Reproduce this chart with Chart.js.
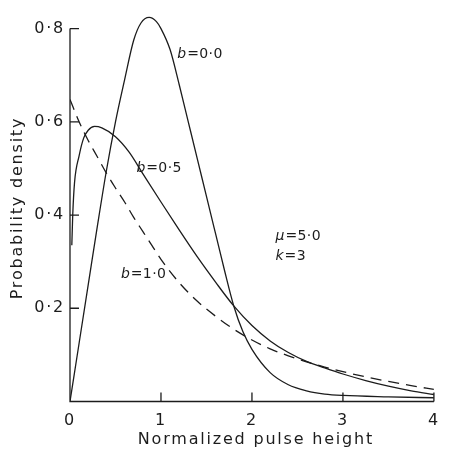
<!DOCTYPE html>
<html><head><meta charset="utf-8">
<script src="https://cdn.jsdelivr.net/npm/chart.js@4"></script>
<style>html,body{margin:0;padding:0;background:#fff;}</style>
</head><body>
<canvas id="c" width="449" height="451"></canvas>
<script>
// ---- data ----
const xB00 = [0, 0.1, 0.2, 0.3, 0.4, 0.5, 0.6, 0.7, 0.78, 0.87, 0.95, 1.0, 1.1, 1.2, 1.3, 1.4, 1.5, 1.6, 1.7, 1.8, 1.9, 2.0, 2.2, 2.4, 2.6, 2.8, 3.0, 3.5, 4.0];
const yB00 = [0, 0.125, 0.25, 0.375, 0.495, 0.60, 0.69, 0.775, 0.812, 0.824, 0.815, 0.80, 0.755, 0.68, 0.60, 0.52, 0.44, 0.36, 0.28, 0.205, 0.15, 0.112, 0.062, 0.036, 0.023, 0.016, 0.013, 0.010, 0.008];

const xB05 = [0.02, 0.03, 0.05, 0.1, 0.15, 0.2, 0.27, 0.35, 0.5, 0.65, 0.8, 1.0, 1.2, 1.4, 1.6, 1.8, 2.0, 2.2, 2.4, 2.6, 2.8, 3.0, 3.25, 3.5, 3.75, 4.0];
const yB05 = [0.335, 0.40, 0.47, 0.527, 0.565, 0.582, 0.59, 0.587, 0.568, 0.535, 0.489, 0.428, 0.368, 0.31, 0.256, 0.205, 0.163, 0.13, 0.105, 0.086, 0.072, 0.059, 0.045, 0.033, 0.023, 0.015];

const xB10 = [0, 0.1, 0.2, 0.3, 0.4, 0.5, 0.6, 0.7, 0.8, 0.9, 1.0, 1.2, 1.4, 1.6, 1.8, 2.0, 2.2, 2.4, 2.6, 2.8, 3.0, 3.25, 3.5, 3.75, 4.0];
const yB10 = [0.648, 0.60, 0.56, 0.525, 0.49, 0.458, 0.428, 0.395, 0.365, 0.335, 0.305, 0.255, 0.215, 0.183, 0.155, 0.132, 0.113, 0.098, 0.085, 0.074, 0.064, 0.053, 0.043, 0.034, 0.026];

const xTicks = [0, 1, 2, 3, 4];
const xTickLabels = ['0', '1', '2', '3', '4'];
const yTicks = [0.2, 0.4, 0.6, 0.8];
const yTickLabels = ['0·2', '0·4', '0·6', '0·8'];

const seriesNames = ['b=0·0', 'b=0·5', 'b=1·0'];
const xTitle = 'Normalized pulse height';
const yTitle = 'Probability density';
const paramLines = [['μ', '=5·0'], ['k', '=3']];

// ---- build ----
const toPts = (xs, ys) => xs.map((x, i) => ({x: x, y: ys[i]}));
const INK = '#1c1c1c';
const FONT = 'DejaVu Sans';

const axisPlugin = {
  id: 'axisPlugin',
  beforeDraw(chart) { chart.ctx.letterSpacing = '1.8px'; },
  beforeDatasetsDraw(chart) {
    const ctx = chart.ctx;
    ctx.letterSpacing = '0px';
    const xs = chart.scales.x, ys = chart.scales.y;
    ctx.save();
    ctx.strokeStyle = INK;
    ctx.lineWidth = 1.3;
    ctx.beginPath();
    const x0 = xs.getPixelForValue(0), x4 = xs.getPixelForValue(4);
    const y0 = ys.getPixelForValue(0), y8 = ys.getPixelForValue(0.8);
    ctx.moveTo(x0, y8); ctx.lineTo(x0, y0); ctx.lineTo(x4, y0);
    yTicks.forEach(v => { const p = ys.getPixelForValue(v); ctx.moveTo(x0, p); ctx.lineTo(x0 + 9, p); });
    xTicks.slice(1).forEach(v => { const p = xs.getPixelForValue(v); ctx.moveTo(p, y0); ctx.lineTo(p, y0 - 9); });
    ctx.stroke();
    ctx.restore();
  },
  afterDraw(chart) {
    const ctx = chart.ctx;
    const xs = chart.scales.x, ys = chart.scales.y;
    ctx.save();
    // x-axis title
    ctx.letterSpacing = '1.8px';
    ctx.fillStyle = INK;
    ctx.font = '16px ' + FONT;
    ctx.textAlign = 'center';
    ctx.textBaseline = 'middle';
    ctx.fillText(xTitle, (xs.left + xs.right) / 2 + 4, 440);
    // curve labels
    ctx.letterSpacing = '0.4px';
    ctx.textAlign = 'left';
    const drawLbl = (a, b, xv, yv) => {
      const px = xs.getPixelForValue(xv), py = ys.getPixelForValue(yv);
      ctx.font = 'italic 14px ' + FONT;
      ctx.fillText(a, px, py);
      const w = ctx.measureText(a).width;
      ctx.font = '14px ' + FONT;
      ctx.fillText(b, px + w + 0.5, py);
    };
    const split = s => [s.slice(0, 1), s.slice(1)];
    drawLbl(...split(seriesNames[0]), 1.18, 0.744);
    drawLbl(...split(seriesNames[1]), 0.73, 0.50);
    drawLbl(...split(seriesNames[2]), 0.56, 0.273);
    drawLbl(paramLines[0][0], paramLines[0][1], 2.26, 0.354);
    drawLbl(paramLines[1][0], paramLines[1][1], 2.26, 0.311);
    ctx.restore();
  }
};

const lineStyle = {borderColor: INK, borderWidth: 1.3, pointRadius: 0, fill: false, cubicInterpolationMode: 'monotone'};

new Chart(document.getElementById('c'), {
  type: 'line',
  data: {
    datasets: [
      Object.assign({label: seriesNames[0], data: toPts(xB00, yB00)}, lineStyle),
      Object.assign({label: seriesNames[1], data: toPts(xB05, yB05)}, lineStyle),
      Object.assign({label: seriesNames[2], data: toPts(xB10, yB10), borderDash: [11, 7]}, lineStyle)
    ]
  },
  options: {
    responsive: false,
    animation: false,
    devicePixelRatio: 1,
    layout: {padding: {top: 11.5, right: 2, bottom: 0, left: 0}},
    plugins: {legend: {display: false}, tooltip: {enabled: false}},
    scales: {
      x: {
        type: 'linear', min: 0, max: 4,
        afterBuildTicks: s => { s.ticks = xTicks.map(v => ({value: v})); },
        afterFit: s => { s.height = 49.5; },
        grid: {drawOnChartArea: false, drawTicks: false},
        border: {display: false},
        ticks: {
          autoSkip: false, maxRotation: 0, padding: 10, color: INK,
          font: {family: FONT, size: 16},
          callback: v => xTickLabels[xTicks.indexOf(v)]
        },
        title: {display: false, text: xTitle}
      },
      y: {
        type: 'linear', min: 0, max: 0.83,
        afterBuildTicks: s => { s.ticks = yTicks.map(v => ({value: v})); },
        afterFit: s => { s.width = 70; },
        grid: {drawOnChartArea: false, drawTicks: false},
        border: {display: false},
        ticks: {
          autoSkip: false, padding: 5, color: INK,
          font: {family: FONT, size: 16},
          callback: v => { const i = yTicks.findIndex(t => Math.abs(t - v) < 1e-9); return i >= 0 ? yTickLabels[i] : ''; }
        },
        title: {display: true, text: yTitle, color: INK, font: {family: FONT, size: 16}, padding: {top: 8, bottom: 0}}
      }
    }
  },
  plugins: [axisPlugin]
});
</script>
</body></html>
